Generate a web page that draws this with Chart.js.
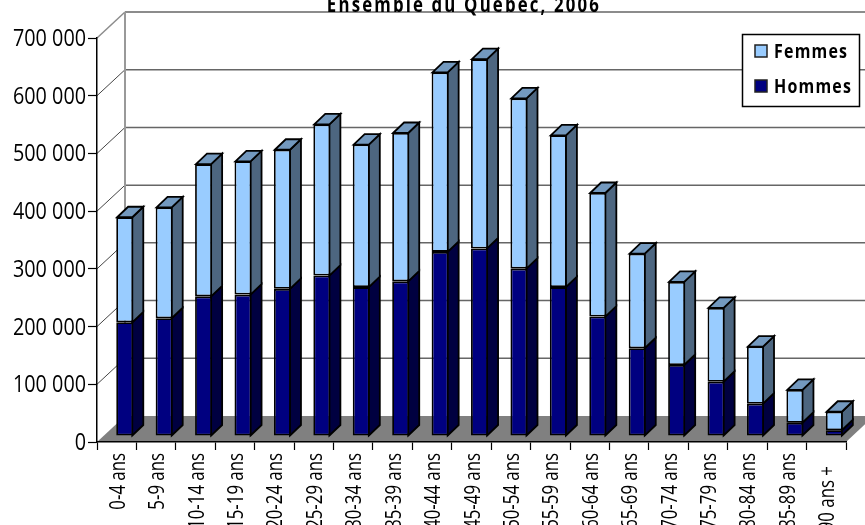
<!DOCTYPE html>
<html>
<head>
<meta charset="utf-8">
<title>Ensemble du Québec, 2006</title>
<script src="https://cdn.jsdelivr.net/npm/chart.js@4"></script>
<style>
  html, body { margin: 0; padding: 0; background: #fff; overflow: hidden; }
  #box { position: relative; width: 865px; height: 525px; }
</style>
</head>
<body>
<div id="box"><canvas id="chart"></canvas></div>
<script>
const titleText = 'Ensemble du Québec, 2006';
const ageGroups = ['0-4 ans', '5-9 ans', '10-14 ans', '15-19 ans', '20-24 ans', '25-29 ans', '30-34 ans',
  '35-39 ans', '40-44 ans', '45-49 ans', '50-54 ans', '55-59 ans', '60-64 ans', '65-69 ans', '70-74 ans',
  '75-79 ans', '80-84 ans', '85-89 ans', '90 ans +   '];
const hommes = [197000, 204000, 242000, 245000, 255000, 278000, 258000, 268000, 319000, 325000, 290000,
  258000, 207000, 152000, 123000, 94000, 56000, 23000, 10000];
const femmes = [182000, 192000, 229000, 231000, 241000, 262000, 247000, 257000, 311000, 328000, 295000,
  263000, 214000, 164000, 144000, 128000, 99000, 57000, 32000];
const yTickValues = [0, 100000, 200000, 300000, 400000, 500000, 600000, 700000];
const yTickLabels = ['0', '100 000', '200 000', '300 000', '400 000', '500 000', '600 000', '700 000'];

const FONT = '"Open Sans", sans-serif';

// 3d look: wall depth, how far the bars sit behind the axes, depth of a bar
const WALL_DX = 28, WALL_DY = -26;
const BAR_DX = 8, BAR_DY = -6;
const SIDE_DX = 11, SIDE_DY = -10.5;
const STROKE = 1.8;

function face(ctx, pts, fill) {
  ctx.beginPath();
  pts.forEach((p, i) => i ? ctx.lineTo(p[0], p[1]) : ctx.moveTo(p[0], p[1]));
  ctx.closePath();
  ctx.fillStyle = fill;
  ctx.fill();
  ctx.stroke();
}

function line(ctx, x1, y1, x2, y2, color, width) {
  ctx.strokeStyle = color;
  ctx.lineWidth = width;
  ctx.beginPath();
  ctx.moveTo(x1, y1);
  ctx.lineTo(x2, y2);
  ctx.stroke();
}

// no condensed font here, so text is squeezed on the canvas; x, y is the anchor
function narrowText(ctx, text, x, y, squeeze, rotate) {
  ctx.save();
  ctx.translate(x, y);
  if (rotate) ctx.rotate(-Math.PI / 2);
  ctx.scale(squeeze, 1);
  ctx.fillText(text, 0, 0);
  ctx.restore();
}

const walls = {
  id: 'walls',
  beforeDraw(chart) {
    const {ctx, scales: {y}, chartArea: a} = chart;
    ctx.save();
    // floor
    ctx.fillStyle = '#808080';
    ctx.beginPath();
    ctx.moveTo(a.left, a.bottom);
    ctx.lineTo(a.left + WALL_DX, a.bottom + WALL_DY);
    ctx.lineTo(a.right + WALL_DX, a.bottom + WALL_DY);
    ctx.lineTo(a.right, a.bottom);
    ctx.closePath();
    ctx.fill();
    // gridlines along the back and side wall
    yTickValues.forEach((v, i) => {
      const py = y.getPixelForValue(v);
      if (i === 0) return;
      const top = i === yTickValues.length - 1;
      line(ctx, a.left + WALL_DX, py + WALL_DY, a.right + WALL_DX, py + WALL_DY, top ? '#8c8c8c' : '#666666', top ? 2 : 1.5);
      line(ctx, a.left, py, a.left + WALL_DX, py + WALL_DY, top ? '#8c8c8c' : '#444444', top ? 1.5 : 1);
    });
    line(ctx, a.left + WALL_DX, a.top + WALL_DY, a.left + WALL_DX, a.bottom + WALL_DY, '#999999', 2);
    ctx.restore();
  }
};

const bars3d = {
  id: 'bars3d',
  beforeDatasetsDraw(chart) {
    const {ctx, data} = chart;
    ctx.save();
    ctx.translate(BAR_DX, BAR_DY);
    ctx.strokeStyle = '#000000';
    ctx.lineWidth = STROKE;
    data.datasets.forEach((ds, d) => {
      chart.getDatasetMeta(d).data.forEach((bar) => {
        const r = bar.x + bar.width / 2 - STROKE / 2;
        const l = bar.x - bar.width / 2 + STROKE / 2;
        face(ctx, [[r, bar.base], [r + SIDE_DX, bar.base + SIDE_DY], [r + SIDE_DX, bar.y + SIDE_DY], [r, bar.y]], ds.sideColor);
        if (d === data.datasets.length - 1) {
          face(ctx, [[l, bar.y], [l + SIDE_DX, bar.y + SIDE_DY], [r + SIDE_DX, bar.y + SIDE_DY], [r, bar.y]], ds.topColor);
        }
      });
    });
  },
  afterDatasetsDraw(chart) {
    chart.ctx.restore();
  }
};

const labels = {
  id: 'labels',
  afterDraw(chart) {
    const {ctx, data, scales: {x, y}, chartArea: a} = chart;
    ctx.save();
    ctx.fillStyle = '#000000';

    // axis labels
    ctx.font = '23px ' + FONT;
    ctx.textAlign = 'right';
    ctx.textBaseline = 'middle';
    y.ticks.forEach((t, i) => narrowText(ctx, t.label, a.left - 11, y.getPixelForTick(i) + 1.5, 0.86, false));
    ctx.font = '21px ' + FONT;
    ctx.textBaseline = 'alphabetic';
    x.ticks.forEach((t, i) => narrowText(ctx, t.label, x.getPixelForTick(i) + 8, a.bottom + 11, 0.8, true));

    // title
    ctx.font = 'bold 21px ' + FONT;
    ctx.letterSpacing = '2.7px';
    ctx.textAlign = 'center';
    narrowText(ctx, titleText, 464, 12, 0.8, false);

    // legend box, Femmes on top
    ctx.font = 'bold 20px ' + FONT;
    ctx.letterSpacing = '1.5px';
    ctx.textAlign = 'left';
    ctx.fillStyle = '#ffffff';
    ctx.strokeStyle = '#000000';
    ctx.lineWidth = 1.5;
    ctx.fillRect(742.5, 34.5, 117, 72);
    ctx.strokeRect(742.5, 34.5, 117, 72);
    [...data.datasets].reverse().forEach((ds, i) => {
      const py = 45 + i * 35;
      ctx.fillStyle = ds.backgroundColor;
      ctx.strokeStyle = '#222222';
      ctx.fillRect(755, py, 12, 12);
      ctx.strokeRect(755, py, 12, 12);
      ctx.fillStyle = '#000000';
      narrowText(ctx, ds.label, 774, py + 13, 0.8, false);
    });
    ctx.restore();
  }
};

new Chart(document.getElementById('chart'), {
  type: 'bar',
  data: {
    labels: ageGroups,
    datasets: [
      {label: 'Hommes', data: hommes, backgroundColor: '#000080', sideColor: '#000040', topColor: '#000060'},
      {label: 'Femmes', data: femmes, backgroundColor: '#99ccff', sideColor: '#4d6680', topColor: '#7399bf'}
    ].map((ds) => ({...ds, borderColor: '#000000', borderWidth: STROKE, borderSkipped: false,
      inflateAmount: 0, barPercentage: 1, categoryPercentage: 0.43, clip: false}))
  },
  options: {
    responsive: true,
    maintainAspectRatio: false,
    animation: false,
    layout: {padding: {top: 38, right: 19, left: 0, bottom: 0}},
    plugins: {legend: {display: false}, title: {display: false}, tooltip: {enabled: false}},
    scales: {
      x: {
        stacked: true,
        afterFit: (s) => { s.height = 83; },
        border: {color: '#000000', width: 1.5},
        grid: {display: true, drawOnChartArea: false, offset: true, color: '#000000', tickLength: 8, tickWidth: 1.2},
        ticks: {display: false, autoSkip: false}
      },
      y: {
        stacked: true,
        min: 0,
        max: 700000,
        afterFit: (s) => { s.width = 97; },
        afterBuildTicks: (s) => { s.ticks = yTickValues.map((value) => ({value})); },
        border: {color: '#000000', width: 1.5},
        grid: {display: true, drawOnChartArea: false, color: '#000000', tickLength: 9, tickWidth: 1.2},
        ticks: {display: false, callback: (v) => yTickLabels[yTickValues.indexOf(v)]}
      }
    }
  },
  plugins: [walls, bars3d, labels]
});
</script>
</body>
</html>
